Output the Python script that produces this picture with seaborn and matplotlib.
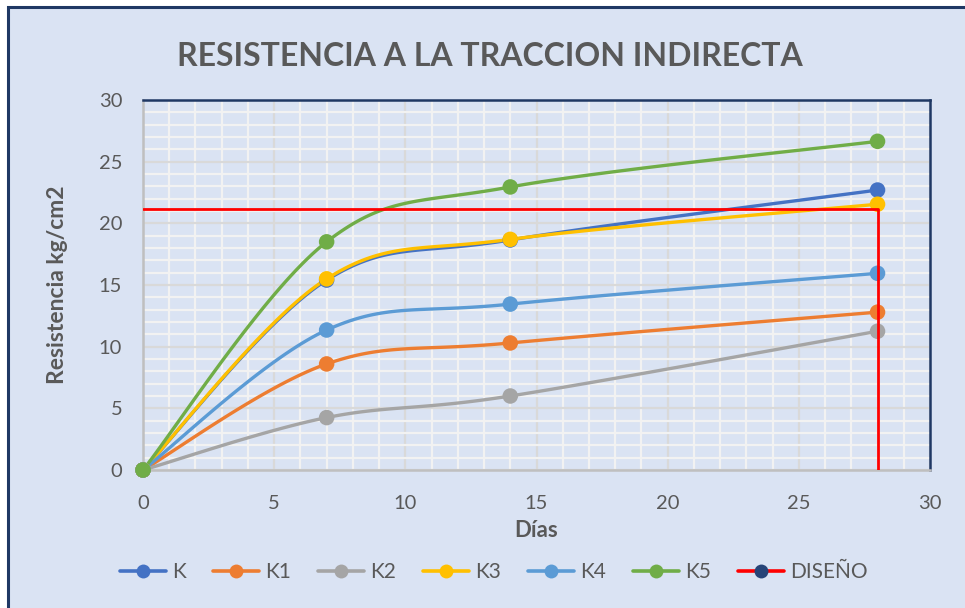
import numpy as np
import pandas as pd
import matplotlib
matplotlib.use("Agg")
import matplotlib.pyplot as plt
from matplotlib.lines import Line2D
from matplotlib.patches import Rectangle
import seaborn as sns

# ---- data ----
dias = [0, 7, 14, 28]
series_names = ["K", "K1", "K2", "K3", "K4", "K5"]
K = [0, 15.4, 18.65, 22.7]
K1 = [0, 8.6, 10.3, 12.8]
K2 = [0, 4.25, 6.0, 11.25]
K3 = [0, 15.5, 18.7, 21.55]
K4 = [0, 11.35, 13.45, 15.95]
K5 = [0, 18.5, 22.95, 26.65]
diseno_x = [0, 28, 28]
diseno_y = [21.15, 21.15, 0]
colors = {"K": "#4472C4", "K1": "#ED7D31", "K2": "#A5A5A5",
          "K3": "#FFC000", "K4": "#5B9BD5", "K5": "#70AD47"}
values = {"K": K, "K1": K1, "K2": K2, "K3": K3, "K4": K4, "K5": K5}


def smooth(xs, ys, n=40):
    """Excel-like smoothed line (Catmull-Rom Bezier) through the points."""
    P = np.column_stack([xs, ys]).astype(float)
    m = len(P)
    out = []
    for i in range(m - 1):
        p0 = P[max(i - 1, 0)]
        p1 = P[i]
        p2 = P[i + 1]
        p3 = P[min(i + 2, m - 1)]
        c1 = p1 + (p2 - p0) / 6.0
        c2 = p2 - (p3 - p1) / 6.0
        t = np.linspace(0, 1, n)[:, None]
        seg = ((1 - t) ** 3) * p1 + 3 * ((1 - t) ** 2) * t * c1 + 3 * (1 - t) * t ** 2 * c2 + t ** 3 * p2
        out.append(seg if i == 0 else seg[1:])
    pts = np.vstack(out)
    return pts[:, 0], pts[:, 1]


sns.set_theme(style="white")
plt.rcParams['font.family'] = ['Lato', 'DejaVu Sans']

bg = "#DAE3F3"
fig = plt.figure(figsize=(9.65, 6.08), dpi=100)
fig.patch.set_facecolor("white")
# chart area with navy border (left/top visible)
fig.patches.append(Rectangle((8 / 965, -0.05), 1.1, 1 - 7 / 608 + 0.05, transform=fig.transFigure,
                             facecolor=bg, edgecolor="#1F3864", linewidth=2.2, zorder=-10))

ax = fig.add_axes([143 / 965, 1 - 470 / 608, (930 - 143) / 965, (470 - 100) / 608])
ax.set_facecolor(bg)

ax.set_xlim(0, 30)
ax.set_ylim(0, 30)
ax.set_xticks(np.arange(0, 31, 5))
ax.set_yticks(np.arange(0, 31, 5))
ax.set_xticks(np.arange(0, 31, 1), minor=True)
ax.set_yticks(np.arange(0, 31, 1), minor=True)
ax.grid(which="minor", color="#F2F2F2", linewidth=1.6, zorder=0)
ax.grid(which="major", color="#D9D9D9", linewidth=1.6, zorder=0)
ax.set_axisbelow(True)
ax.tick_params(which="both", length=0)
ax.tick_params(axis="x", pad=18, labelsize=14.5, labelcolor="#595959")
ax.tick_params(axis="y", pad=15, labelsize=14.5, labelcolor="#595959")

for s in ["left", "bottom"]:
    ax.spines[s].set_color("#BFBFBF")
    ax.spines[s].set_linewidth(1.8)
for s in ["top", "right"]:
    ax.spines[s].set_color("#1F3864")
    ax.spines[s].set_linewidth(1.8)

for name in series_names:
    sx, sy = smooth(dias, values[name])
    df_line = pd.DataFrame({"x": sx, "y": sy})
    sns.lineplot(data=df_line, x="x", y="y", ax=ax, color=colors[name], linewidth=2.4,
                 sort=False, estimator=None, zorder=3)
    df_pts = pd.DataFrame({"x": dias, "y": values[name]})
    sns.scatterplot(data=df_pts, x="x", y="y", ax=ax, color=colors[name], s=125,
                    edgecolor="none", zorder=4, clip_on=False)

df_d = pd.DataFrame({"x": diseno_x, "y": diseno_y})
sns.lineplot(data=df_d, x="x", y="y", ax=ax, color="#FF0000", linewidth=2.0,
             sort=False, estimator=None, zorder=5)

ax.set_xlabel("Días", fontsize=16, fontweight="bold", color="#595959", labelpad=6)
ax.set_ylabel("Resistencia kg/cm2", fontsize=16.5, fontweight="bold", color="#595959", labelpad=22)

fig.text(490 / 965, 1 - 56 / 608, "RESISTENCIA A LA TRACCION INDIRECTA", ha="center", va="center",
         fontsize=23, fontweight="bold", color="#595959")

handles = [Line2D([0], [0], color=colors[n], lw=2.6, marker="o", markersize=10,
                  markeredgewidth=0) for n in series_names]
handles.append(Line2D([0], [0], color="#FF0000", lw=2.6, marker="o", markersize=10,
                      markerfacecolor="#264478", markeredgewidth=0))
labels = series_names + ["DISEÑO"]
leg = fig.legend(handles, labels, loc="center", bbox_to_anchor=(494 / 965, 1 - 572 / 608), ncol=7,
                 frameon=False, fontsize=15, handlelength=2.2, handletextpad=0.3, columnspacing=1.3)
for t in leg.get_texts():
    t.set_color("#595959")

fig.savefig("out.png", dpi=100, facecolor=fig.get_facecolor())
